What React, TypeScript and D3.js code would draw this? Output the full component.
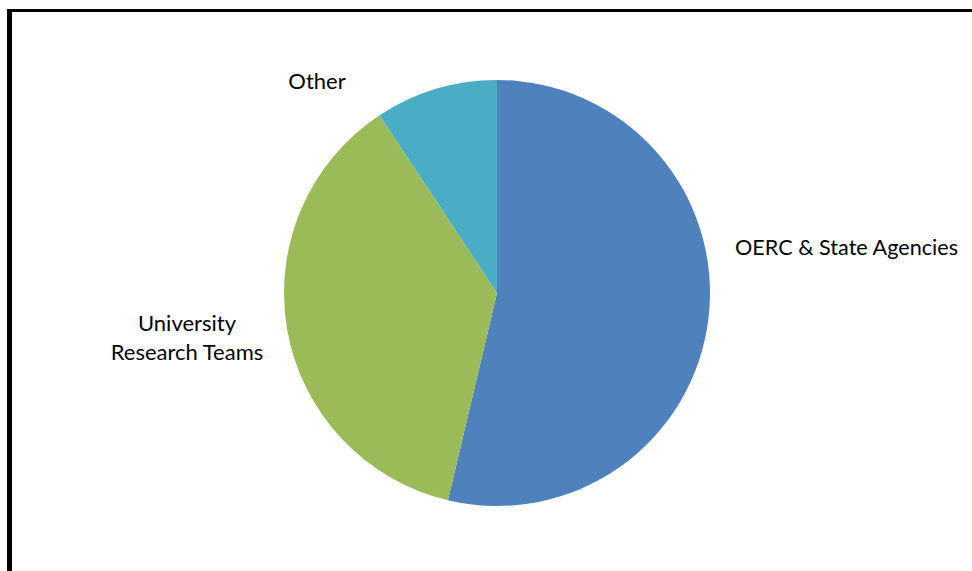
import React from "react";
import * as d3 from "d3";

const categories = ["OERC & State Agencies", "University Research Teams", "Other"];
const values = [53.7, 37.0, 9.3];
const colors = ["#4F81BD", "#9BBB59", "#4BACC6"];

export default function App() {
  const W = 972, H = 571;
  const cx = 497, cy = 293, r = 213;
  const pie = d3.pie<number>().sort(null).value((d) => d);
  const arcs = pie(values);
  const arc = d3.arc<d3.PieArcDatum<number>>().innerRadius(0).outerRadius(r);
  const font = "Lato, 'Open Sans', sans-serif";
  return (
    <svg width={W} height={H} style={{ position: "absolute", left: 0, top: 0, background: "#fff" }}>
      <rect x={0} y={0} width={W} height={H} fill="#fff" />
      <rect x={7} y={9} width={W} height={3} fill="#000" />
      <rect x={7} y={9} width={5} height={H} fill="#000" />
      <g transform={`translate(${cx},${cy})`}>
        {arcs.map((a, i) => (
          <path key={i} d={arc(a) || ""} fill={colors[i]} />
        ))}
      </g>
      <g fontFamily={font} fontSize={22} fill="#000">
        <text x={735} y={255} textLength={223} lengthAdjust="spacingAndGlyphs">{categories[0]}</text>
        <text x={187} y={331} textAnchor="middle">University</text>
        <text x={187} y={360} textAnchor="middle">Research Teams</text>
        <text x={317} y={89} textAnchor="middle">{categories[2]}</text>
      </g>
    </svg>
  );
}
